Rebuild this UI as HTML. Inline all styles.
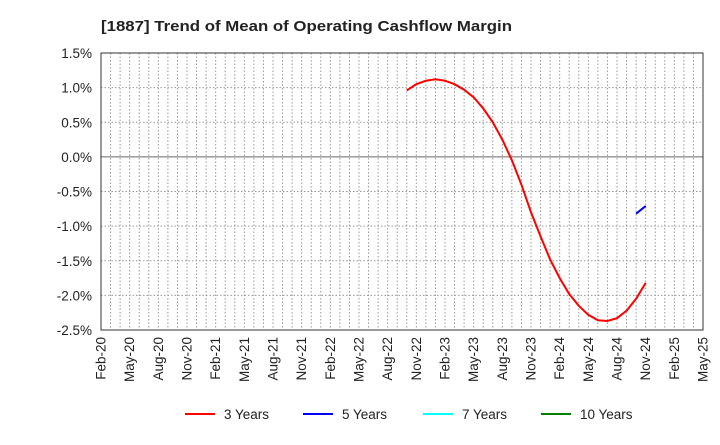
<!DOCTYPE html>
<html><head><meta charset="utf-8"><style>
body{margin:0;background:#fff;font-family:"Liberation Sans",Arial,sans-serif}
svg text{font-family:"Liberation Sans",Arial,sans-serif}
</style></head><body>
<svg id="chart" width="720" height="440" xmlns="http://www.w3.org/2000/svg">
<text x="101" y="31" font-size="15" font-weight="bold" fill="#222" textLength="411" lengthAdjust="spacingAndGlyphs">[1887]  Trend of Mean of Operating Cashflow Margin</text>
<g id="grid"></g><g id="axes"></g><g id="series"></g><g id="legend"></g>
</svg>
<script>
const monthLabels = ["Feb-20","May-20","Aug-20","Nov-20","Feb-21","May-21","Aug-21","Nov-21","Feb-22","May-22","Aug-22","Nov-22","Feb-23","May-23","Aug-23","Nov-23","Feb-24","May-24","Aug-24","Nov-24","Feb-25","May-25"];
const yTicks = [1.5,1.0,0.5,0.0,-0.5,-1.0,-1.5,-2.0,-2.5];
const red3Start = 32;
const red3Values = [0.96,1.05,1.10,1.12,1.10,1.05,0.97,0.86,0.70,0.50,0.25,-0.05,-0.40,-0.80,-1.15,-1.48,-1.75,-1.98,-2.15,-2.28,-2.36,-2.37,-2.33,-2.22,-2.05,-1.82];
const blue5Start = 56;
const blue5Values = [-0.82,-0.71];
const legendNames = ["3 Years","5 Years","7 Years","10 Years"];
const legendColors = ["#ff0000","#0000ff","#00ffff","#008000"];

const NS="http://www.w3.org/2000/svg";
const L=101,R=703,T=53,B=330,totalMonths=63;
const xs=m=>L+(R-L)*m/totalMonths;
const ys=v=>T+(1.5-v)/4.0*(B-T);
function mk(tag,attrs,parent){const e=document.createElementNS(NS,tag);for(const k in attrs)e.setAttribute(k,attrs[k]);parent.appendChild(e);return e;}
const grid=document.getElementById('grid'),axes=document.getElementById('axes'),ser=document.getElementById('series'),leg=document.getElementById('legend');
for(let m=1;m<totalMonths;m++){
  const l=mk('line',{x1:xs(m),x2:xs(m),y1:T,y2:B,stroke:'#999','stroke-dasharray':'1.5,2','stroke-width':1},grid);
  
  
}
yTicks.forEach(v=>{
  const y=ys(v);
  const l=mk('line',{x1:L,x2:R,y1:y,y2:y,stroke:v===0?'#666':'#999','stroke-dasharray':v===0?'none':'1.5,2','stroke-width':1},grid);
  
  
  const t=mk('text',{x:92,y:y+5,'font-size':13.5,'text-anchor':'end',fill:'#222'},axes);
  t.textContent=v.toFixed(1)+'%';
  
  
});
const frame=mk('rect',{x:L,y:T,width:R-L,height:B-T,fill:'none',stroke:'#333','stroke-width':1},axes);


monthLabels.forEach((s,i)=>{
  const x=xs(i*3);
  const t=mk('text',{x:x+4.5,y:B+7,'font-size':13.5,'text-anchor':'end',fill:'#222',transform:`rotate(-90 ${x+4.5} ${B+7})`},axes);
  t.textContent=s;
  
  
});
function line(start,vals,color,name){
  const pts=vals.map((v,i)=>xs(start+i).toFixed(1)+','+ys(v).toFixed(1)).join(' ');
  const p=mk('polyline',{points:pts,fill:'none',stroke:color,'stroke-width':2},ser);
  
  
}
line(red3Start,red3Values,'#ff0000','series-3-years');
line(blue5Start,blue5Values,'#0000ff','series-5-years');
const lx=[185,303,423,541];
legendNames.forEach((n,i)=>{
  const g=mk('g',{},leg);
  
  
  mk('line',{x1:lx[i],x2:lx[i]+30,y1:414,y2:414,stroke:legendColors[i],'stroke-width':2},g);
  const t=mk('text',{x:lx[i]+39,y:419,'font-size':13.5,fill:'#222'},g);
  t.textContent=n;
});
</script>
</body></html>
